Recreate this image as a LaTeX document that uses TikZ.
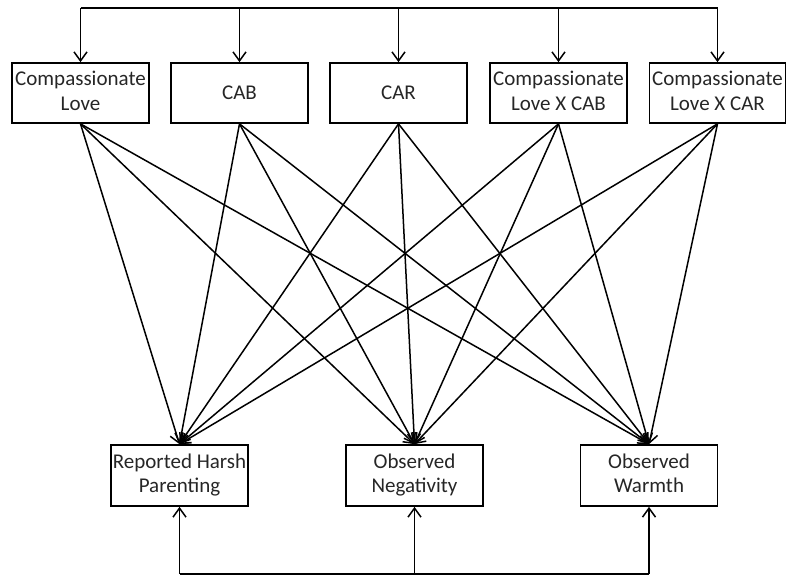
\documentclass[tikz,border=0pt]{standalone}
\usepackage{fontspec}
\setmainfont{Carlito}
\usetikzlibrary{arrows.meta}
\begin{document}
\begin{tikzpicture}[x=1pt,y=-1pt,
  box/.style={draw, line width=1.7pt, minimum width=137pt, minimum height=60pt,
    inner sep=0pt, align=center, font=\fontsize{21}{24.5}\selectfont, text=black!85},
  conn/.style={line width=1.5pt, -{Straight Barb[length=9pt,width=13pt,line width=1.5pt]}},
  plain/.style={line width=1.6pt}]
\useasboundingbox (0,0) rectangle (786,576);
% top boxes
\node[box] (t1) at (80.5,93) {Compassionate\strut\\Love\strut};
\node[box] (t2) at (239.5,93) {CAB};
\node[box] (t3) at (398.5,93) {CAR};
\node[box] (t4) at (558.5,93) {Compassionate\strut\\Love X CAB\strut};
\node[box, minimum width=136pt] (t5) at (717.5,93) {Compassionate\strut\\Love X CAR\strut};
% bottom boxes
\node[box, minimum height=61pt] (b1) at (179.5,475.5) {Reported Harsh\strut\\Parenting\strut};
\node[box, minimum height=61pt] (b2) at (414.5,475.5) {Observed\strut\\Negativity\strut};
\node[box, minimum height=61pt] (b3) at (649,475.5) {Observed\strut\\Warmth\strut};
% top bus
\coordinate (p1) at (80.5,8);
\coordinate (p2) at (239.5,8);
\coordinate (p3) at (398.5,8);
\coordinate (p4) at (558.5,8);
\coordinate (p5) at (717.5,8);
\draw[plain] (p1) -- (p5);
\foreach \i in {1,...,5} { \draw[conn] (p\i) -- (t\i.north); }
% bottom bus
\coordinate (q1) at (179.5,574);
\coordinate (q2) at (414.5,574);
\coordinate (q3) at (649,574);
\draw[plain] (q1) -- (q3);
\foreach \j in {1,2,3} { \draw[conn] (q\j) -- (b\j.south); }
% diagonals
\foreach \i in {1,...,5} {
  \foreach \j in {1,2,3} {
    \draw[conn] (t\i.south) -- (b\j.north);
  }
}
\end{tikzpicture}
\end{document}
